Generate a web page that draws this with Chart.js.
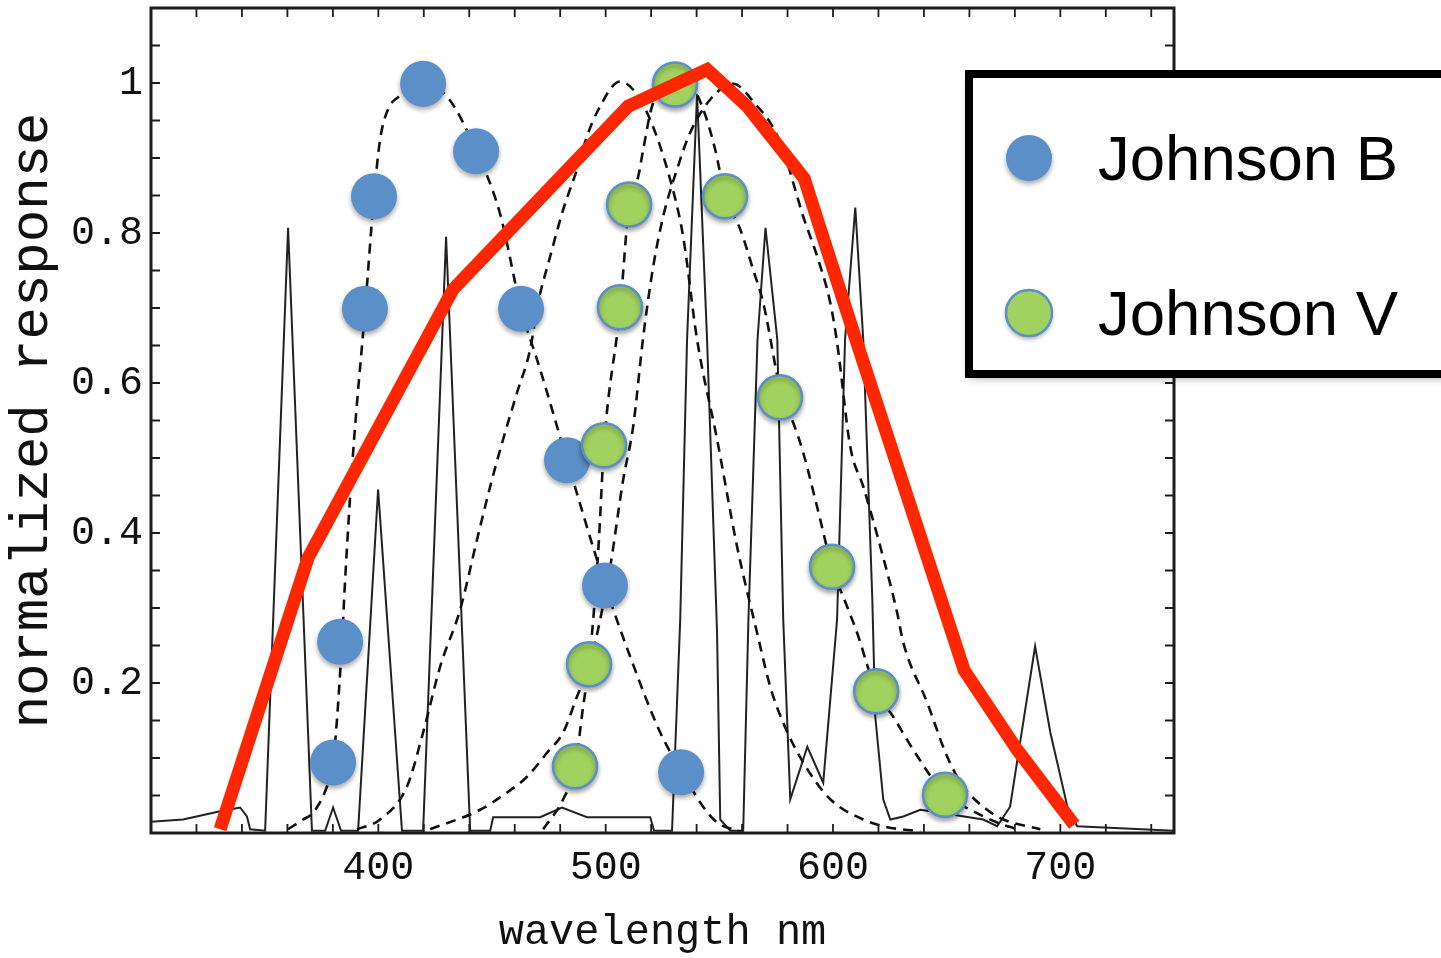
<!DOCTYPE html>
<html><head><meta charset="utf-8">
<script src="https://cdn.jsdelivr.net/npm/chart.js@4.4.1/dist/chart.umd.min.js"></script>
<style>html,body{margin:0;padding:0;background:#fff;} #wrap{position:relative;width:1441px;height:958px;}</style>
</head><body><div id="wrap"><canvas id="c"></canvas></div>
<script>
// ---- tick labels ----
const xTickValues = [400, 500, 600, 700];
const yTickValues = [0.2, 0.4, 0.6, 0.8, 1];
const yTickLabels = ['0.2', '0.4', '0.6', '0.8', '1'];

// ---- red envelope line ----
const redNm   = [330.4, 369.1, 432.9, 509.9, 544.6, 562.2, 587.3, 609.3, 657.7, 681, 706.1];
const redResp = [0.005, 0.367, 0.725, 0.969, 1.018, 0.969, 0.873, 0.665, 0.217, 0.111, 0.011];

// ---- Johnson B points ----
const bNm   = [380.1, 383.2, 394.1, 398.1, 419.7, 443, 462.8, 483, 499.7, 533.2];
const bResp = [0.094, 0.255, 0.699, 0.849, 0.999, 0.909, 0.699, 0.497, 0.33, 0.081];

// ---- Johnson V points ----
const vNm   = [486.5, 492.7, 499.3, 506.3, 510.3, 530.5, 552.5, 576.7, 599.6, 619, 649.3];
const vResp = [0.089, 0.225, 0.517, 0.701, 0.838, 0.998, 0.849, 0.581, 0.355, 0.189, 0.051];

// ---- dashed curve: B filter ----
const bCurveNm   = [360.3, 366.9, 371.3, 377.4, 380.1, 381.8, 384, 385.4, 388.9, 394.2, 398.1, 400.8, 404.3, 408.7, 419.7, 430.2, 443, 453.6, 462.8, 471.2, 483, 499.8, 510.8, 524, 533.6, 542.9, 549, 559.2];
const bCurveResp = [0.005, 0.018, 0.027, 0.062, 0.094, 0.151, 0.255, 0.338, 0.507, 0.699, 0.849, 0.925, 0.965, 0.981, 0.997, 0.982, 0.91, 0.825, 0.699, 0.618, 0.497, 0.33, 0.235, 0.134, 0.081, 0.035, 0.014, 0.002];

// ---- dashed curve: V filter ----
const vCurveNm   = [472.5, 481.3, 486.6, 490.1, 492.7, 496.7, 499.3, 506.4, 510.3, 514.3, 516.5, 520.4, 525.3, 530.6, 537.2, 542.9, 548.2, 552.6, 559.2, 564.9, 569.3, 577.6, 582.5, 586.9, 593, 599.6, 606.2, 610.6, 619, 626.5, 635.3, 649.4, 660.4, 672.2, 681];
const vCurveResp = [0.005, 0.045, 0.089, 0.169, 0.225, 0.374, 0.517, 0.701, 0.838, 0.875, 0.911, 0.969, 0.991, 0.998, 0.997, 0.965, 0.911, 0.849, 0.805, 0.751, 0.707, 0.581, 0.547, 0.507, 0.435, 0.355, 0.302, 0.267, 0.189, 0.155, 0.111, 0.051, 0.031, 0.014, 0.005];

// ---- dashed curve: scotopic eye response ----
const scotNm   = [390.6, 400.8, 412.6, 419.7, 427.2, 436, 443.4, 449.2, 454.9, 461, 466.8, 470.3, 475.6, 481.3, 487.4, 491.8, 496.2, 506.4, 512.1, 519.6, 528.4, 534.1, 540.2, 549, 557.8, 566.6, 572.4, 578.1, 586.9, 598.8, 613.3, 622.1, 638.4];
const scotResp = [0.005, 0.018, 0.062, 0.134, 0.222, 0.298, 0.391, 0.462, 0.525, 0.587, 0.645, 0.707, 0.769, 0.831, 0.885, 0.929, 0.961, 1.002, 0.991, 0.951, 0.871, 0.795, 0.658, 0.525, 0.382, 0.267, 0.195, 0.147, 0.094, 0.045, 0.018, 0.009, 0.002];

// ---- dashed curve: photopic eye response ----
const photNm   = [422.8, 444.8, 456.6, 465.4, 474.2, 481.3, 487.4, 493.2, 497.6, 502, 507.7, 512.1, 516.5, 520.9, 525.3, 531.4, 537.2, 546, 556.1, 566.6, 572.4, 578.1, 582.5, 586.9, 593, 598.8, 601.8, 607.6, 613.3, 620.8, 628.2, 630.9, 641.4, 650.2, 657.3, 667.8, 674.9, 691.2];
const photResp = [0.005, 0.031, 0.054, 0.075, 0.107, 0.134, 0.182, 0.227, 0.285, 0.355, 0.471, 0.542, 0.661, 0.755, 0.822, 0.885, 0.934, 0.978, 0.999, 0.969, 0.947, 0.911, 0.867, 0.822, 0.769, 0.707, 0.654, 0.515, 0.462, 0.382, 0.294, 0.254, 0.174, 0.102, 0.062, 0.031, 0.018, 0.005];

// ---- solid line: lamp spectrum ----
const specNm   = [300, 314.1, 330.4, 339.2, 342.2, 343.6, 350.2, 360.3, 370.8, 376.6, 380.1, 383.6, 391.1, 399.9, 410.4, 419.7, 429.8, 440.4, 449.2, 450.5, 471.2, 480.8, 491.8, 519.6, 521.3, 529.2, 532.8, 535.8, 540.2, 544.6, 549, 550.4, 554.8, 560.5, 562.8, 566.8, 570.3, 575.5, 578.1, 581.2, 588.7, 595.7, 601.8, 605.3, 609.8, 613.3, 617.3, 618.6, 622.1, 625.2, 630.9, 638.4, 647.2, 666.1, 672.2, 677.9, 688.9, 695.6, 703.1, 707.4, 750];
const specResp = [0.015, 0.018, 0.029, 0.034, 0.022, 0.005, 0.003, 0.807, 0.003, 0.003, 0.034, 0.003, 0.003, 0.458, 0.003, 0.003, 0.795, 0.003, 0.003, 0.021, 0.021, 0.034, 0.021, 0.021, 0.003, 0.003, 0.285, 0.658, 0.985, 0.658, 0.267, 0.018, 0.003, 0.003, 0.285, 0.658, 0.807, 0.658, 0.285, 0.045, 0.115, 0.067, 0.285, 0.658, 0.834, 0.658, 0.311, 0.155, 0.045, 0.018, 0.022, 0.031, 0.027, 0.018, 0.009, 0.035, 0.249, 0.134, 0.035, 0.009, 0.003];

const toPts = (xs, ys) => xs.map((x, i) => ({ x: x, y: ys[i] }));

const MONO = "'Liberation Mono', 'Courier New', 'DejaVu Sans Mono', monospace";
const SANS = "'Liberation Sans', Arial, Helvetica, sans-serif";
const BLUE = '#5B8FC7';
const GREEN = '#A1D25F';
const RED = '#FF2600';
const INK = '#1c1c1c';

const dashedStyle = {
  type: 'line', showLine: true, borderColor: '#111', borderWidth: 2.6, borderDash: [10, 7],
  pointRadius: 0, pointHoverRadius: 0, fill: false, cubicInterpolationMode: 'monotone', order: 5
};

const framePlugin = {
  id: 'frame',
  afterDatasetsDraw(chart) {
    const { ctx, chartArea: a, scales: { x, y } } = chart;
    ctx.save();
    ctx.strokeStyle = INK;
    ctx.lineWidth = 1.8;
    const L = 9;
    ctx.beginPath();
    for (let v = Math.ceil(x.min / 20) * 20; v <= x.max + 1e-9; v += 20) {
      const px = x.getPixelForValue(v);
      ctx.moveTo(px, a.bottom); ctx.lineTo(px, a.bottom - L);
      ctx.moveTo(px, a.top); ctx.lineTo(px, a.top + L);
    }
    for (let k = 1; k * 0.05 <= y.max + 1e-9; k++) {
      const py = y.getPixelForValue(k * 0.05);
      ctx.moveTo(a.left, py); ctx.lineTo(a.left + L, py);
      ctx.moveTo(a.right, py); ctx.lineTo(a.right - L, py);
    }
    ctx.stroke();
    ctx.lineWidth = 3;
    ctx.strokeRect(a.left, a.top, a.right - a.left, a.bottom - a.top);
    ctx.restore();
  }
};

const shadowPlugin = {
  id: 'pointShadow',
  beforeDatasetDraw(chart, args) {
    const ds = chart.data.datasets[args.index];
    if (ds.withShadow) {
      const ctx = chart.ctx;
      ctx.save();
      ctx.shadowColor = 'rgba(0,0,0,0.35)';
      ctx.shadowBlur = 5;
      ctx.shadowOffsetY = 3;
    }
  },
  afterDatasetDraw(chart, args) {
    const ds = chart.data.datasets[args.index];
    if (ds.withShadow) chart.ctx.restore();
  }
};

const boxLegendPlugin = {
  id: 'boxLegend',
  afterDraw(chart) {
    const ctx = chart.ctx;
    const items = chart.data.datasets.filter(d => d.inLegend);
    const box = { x: 969, y: 74, w: 480, h: 300 };
    ctx.save();
    ctx.shadowColor = 'rgba(0,0,0,0.35)';
    ctx.shadowBlur = 8;
    ctx.shadowOffsetY = 4;
    ctx.fillStyle = '#fff';
    ctx.fillRect(box.x, box.y, box.w, box.h);
    ctx.shadowColor = 'transparent';
    ctx.lineWidth = 8;
    ctx.strokeStyle = '#000';
    ctx.strokeRect(box.x, box.y, box.w, box.h);
    const rowY = [158, 313];
    items.forEach((d, i) => {
      ctx.save();
      ctx.shadowColor = 'rgba(0,0,0,0.35)';
      ctx.shadowBlur = 5;
      ctx.shadowOffsetY = 3;
      ctx.beginPath();
      ctx.arc(1029, rowY[i], 23, 0, Math.PI * 2);
      ctx.fillStyle = d.backgroundColor;
      ctx.fill();
      ctx.restore();
      if (d.borderWidth) {
        ctx.beginPath();
        ctx.arc(1029, rowY[i], 23, 0, Math.PI * 2);
        ctx.lineWidth = d.borderWidth;
        ctx.strokeStyle = d.borderColor;
        ctx.stroke();
      }
      ctx.fillStyle = '#000';
      ctx.font = '63.5px ' + SANS;
      ctx.textBaseline = 'alphabetic';
      ctx.textAlign = 'left';
      ctx.fillText(d.label, 1098, rowY[i] + 22);
    });
    ctx.restore();
  }
};

new Chart(document.getElementById('c'), {
  type: 'scatter',
  data: {
    datasets: [
      { label: 'spectrum', type: 'line', data: toPts(specNm, specResp), borderColor: '#222', borderWidth: 2,
        pointRadius: 0, pointHoverRadius: 0, tension: 0, fill: false, order: 6 },
      Object.assign({ label: 'B filter', data: toPts(bCurveNm, bCurveResp) }, dashedStyle),
      Object.assign({ label: 'V filter', data: toPts(vCurveNm, vCurveResp) }, dashedStyle),
      Object.assign({ label: 'scotopic', data: toPts(scotNm, scotResp) }, dashedStyle),
      Object.assign({ label: 'photopic', data: toPts(photNm, photResp) }, dashedStyle),
      { label: 'Johnson B', data: toPts(bNm, bResp), backgroundColor: BLUE, borderColor: BLUE, borderWidth: 0,
        pointRadius: 23, pointHoverRadius: 23, order: 3, withShadow: true, inLegend: true },
      { label: 'Johnson V', data: toPts(vNm, vResp), backgroundColor: GREEN, borderColor: BLUE, borderWidth: 2.5,
        pointRadius: 22, pointHoverRadius: 22, order: 2, withShadow: true, inLegend: true },
      { label: 'envelope', type: 'line', data: toPts(redNm, redResp), borderColor: RED, borderWidth: 13,
        pointRadius: 0, pointHoverRadius: 0, tension: 0, fill: false, order: 1, borderJoinStyle: 'miter', borderCapStyle: 'butt' }
    ]
  },
  options: {
    responsive: true,
    maintainAspectRatio: false,
    animation: false,
    events: [],
    layout: { autoPadding: false, padding: { top: 8, right: 267, left: 0, bottom: 0 } },
    plugins: { legend: { display: false }, tooltip: { enabled: false } },
    scales: {
      x: {
        type: 'linear', min: 300, max: 750,
        grid: { display: false, drawTicks: false },
        border: { display: false },
        afterBuildTicks: (s) => { s.ticks = xTickValues.map(v => ({ value: v })); },
        afterFit: (s) => { s.height = 125; s.paddingLeft = 0; s.paddingRight = 0; },
        ticks: { color: '#111', padding: 11, maxRotation: 0, autoSkip: false,
          font: { family: MONO, size: 40 }, callback: (v) => String(v) },
        title: { display: true, text: 'wavelength nm', color: '#111', padding: 0,
          font: { family: MONO, size: 42 } }
      },
      y: {
        type: 'linear', min: 0, max: 1.1,
        grid: { display: false, drawTicks: false },
        border: { display: false },
        afterBuildTicks: (s) => { s.ticks = yTickValues.map(v => ({ value: v })); },
        afterFit: (s) => { s.width = 151; s.paddingTop = 0; s.paddingBottom = 0; },
        ticks: { color: '#111', padding: 8, autoSkip: false,
          font: { family: MONO, size: 40 },
          callback: (v) => { const i = yTickValues.indexOf(v); return i >= 0 ? yTickLabels[i] : ''; } },
        title: { display: true, text: 'normalized response', color: '#111', padding: 0,
          font: { family: MONO, size: 54 } }
      }
    }
  },
  plugins: [shadowPlugin, framePlugin, boxLegendPlugin]
});
</script>
</body></html>
